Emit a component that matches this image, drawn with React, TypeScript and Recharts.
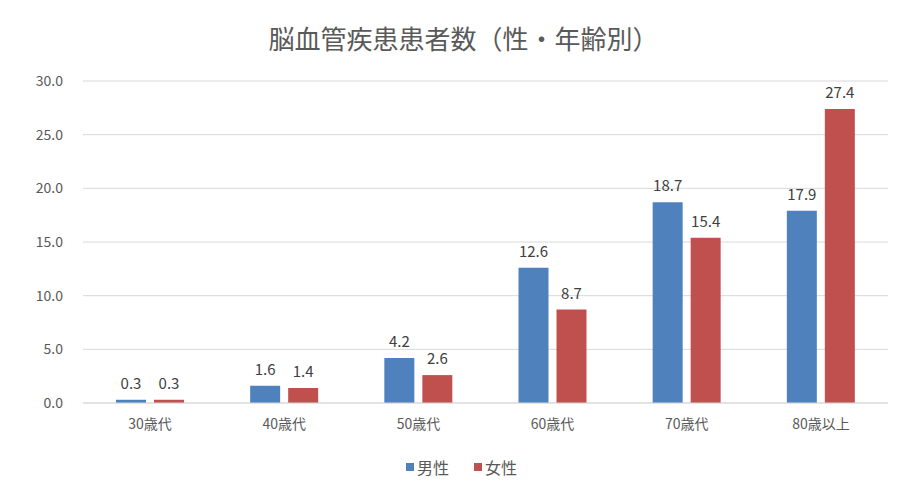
import React from "react";
import { BarChart, Bar, XAxis, YAxis, CartesianGrid, LabelList } from "recharts";

const categories = ["30歳代", "40歳代", "50歳代", "60歳代", "70歳代", "80歳以上"];
const maleValues = [0.3, 1.6, 4.2, 12.6, 18.7, 17.9];
const femaleValues = [0.3, 1.4, 2.6, 8.7, 15.4, 27.4];
const yTicks = [0, 5, 10, 15, 20, 25, 30];
const seriesNames = ["男性", "女性"];
const title = "脳血管疾患患者数（性・年齢別）";

const data = categories.map((c, i) => ({ name: c, male: maleValues[i], female: femaleValues[i] }));

const FONT = "'Noto Sans CJK JP', 'Noto Sans', sans-serif";
const BLUE = "#4F81BD";
const RED = "#C0504D";

export default function App() {
  return (
    <div style={{ position: "absolute", left: 0, top: 0, width: 909, height: 481, background: "#fff" }}>
      <div style={{ position: "absolute", top: 20, left: 0, width: 909, textAlign: "center", fontFamily: FONT, fontSize: 26, lineHeight: "36px", color: "#595959", paddingLeft: 18, boxSizing: "border-box" }}>
        {title}
      </div>
      <BarChart
        width={909}
        height={481}
        data={data}
        margin={{ top: 81, right: 21, bottom: 48, left: 0 }}
        barGap={8}
        barSize={30}
      >
        <CartesianGrid vertical={false} stroke="#D9D9D9" />
        <XAxis
          dataKey="name"
          height={30}
          tickLine={false}
          tickSize={0}
          tickMargin={16}
          axisLine={{ stroke: "#D9D9D9" }}
          tick={{ fill: "#595959", fontSize: 14, fontFamily: FONT }}
          interval={0}
        />
        <YAxis
          width={83}
          domain={[0, 30]}
          ticks={yTicks}
          axisLine={false}
          tickLine={false}
          tickSize={0}
          tickMargin={20}
          tickFormatter={(v: number) => v.toFixed(1)}
          tick={{ fill: "#595959", fontSize: 14, fontFamily: FONT }}
        />
        <Bar dataKey="male" name={seriesNames[0]} fill={BLUE} isAnimationActive={false}>
          <LabelList dataKey="male" position="top" offset={11} formatter={(v: number) => v.toFixed(1)} style={{ fill: "#404040", fontSize: 15, fontFamily: FONT }} />
        </Bar>
        <Bar dataKey="female" name={seriesNames[1]} fill={RED} isAnimationActive={false}>
          <LabelList dataKey="female" position="top" offset={11} formatter={(v: number) => v.toFixed(1)} style={{ fill: "#404040", fontSize: 15, fontFamily: FONT }} />
        </Bar>
      </BarChart>
      <div style={{ position: "absolute", top: 455, left: 0, width: 909, display: "flex", justifyContent: "center", alignItems: "center", fontFamily: FONT, fontSize: 16, lineHeight: "24px", color: "#595959", paddingLeft: 14, boxSizing: "border-box" }}>
        {[BLUE, RED].map((col, i) => (
          <div key={i} style={{ display: "flex", alignItems: "center", marginRight: i === 0 ? 25 : 0 }}>
            <span style={{ display: "inline-block", width: 8, height: 8, background: col, marginRight: 3 }} />
            <span>{seriesNames[i]}</span>
          </div>
        ))}
      </div>
    </div>
  );
}
